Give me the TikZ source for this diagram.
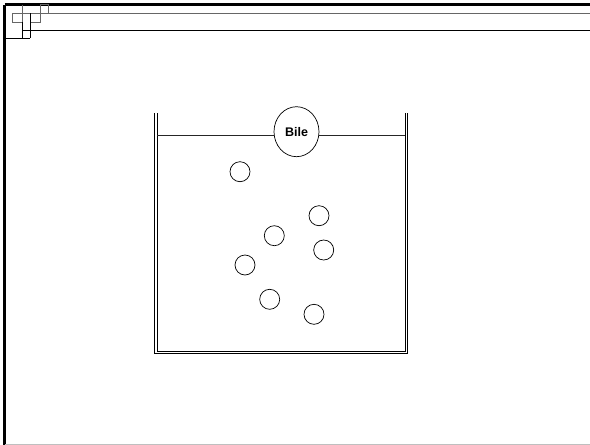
\documentclass[tikz,border=0pt]{standalone}
\usepackage{fontspec}
\setsansfont{Liberation Sans}
\usetikzlibrary{shapes.geometric}
\tikzset{
  frameline/.style={line width=2.2pt, black},
  trimgray/.style={line width=1pt, black!60},
  trimdark/.style={line width=1pt, black},
  wall/.style={line width=1pt, black},
  liquid/.style={line width=0.7pt, black!85},
  droplet/.style={
    draw,
    circle,
    minimum size=20pt,
    inner sep=0pt,
    line width=0.7pt,
  },
  bilenode/.style={
    draw,
    ellipse,
    minimum width=45pt,
    minimum height=50pt,
    inner sep=0pt,
    line width=0.7pt,
    fill=white,
    font=\sffamily\bfseries\fontsize{12.5}{12.5}\selectfont,
  },
}

\begin{document}
\begin{tikzpicture}[x=1pt, y=-1pt]
  \useasboundingbox (0,0) rectangle (590,445);
  % slide frame
  \draw[frameline] (4.5,4.5) -- (590,4.5);
  \draw[frameline] (4.5,4.5) -- (4.5,445);
  \draw[line width=1pt, black!25] (5,444) -- (590,444);
  % corner trim
  \draw[trimgray] (12,13) -- (590,13);
  \draw[trimgray] (12,13) rectangle (22,22);
  \draw[trimgray] (22,4.5) -- (22,22);
  \draw[trimgray] (30,13) rectangle (40,22);
  \draw[trimgray] (40,4.5) rectangle (48,13);
  \draw[trimdark] (4.5,38) -- (30,38);
  \draw[trimdark] (30,13) -- (30,38);
  \draw[trimdark] (22,22) -- (22,38);
  \draw[trimdark] (22,30.5) -- (590,30.5);
  % beaker
  \draw[wall] (154.5,113) -- (154.5,353.5) -- (407.5,353.5) -- (407.5,113);
  \draw[wall] (157,113) -- (157,351) -- (405,351) -- (405,113);
  \coordinate (lqL) at (157,135.7);
  \coordinate (lqR) at (405,135.7);
  \draw[liquid] (lqL) -- (lqR);
  \node[bilenode] (bile) at (296.5,131.7) {Bile};
  % fat droplets
  \foreach \x/\y [count=\k] in {240/171.7, 319/215.7, 274.3/235.7, 323.7/250,
                                245/265, 269.7/299.3, 314/314.3} {
    \node[droplet] (p\k) at (\x,\y) {};
  }
\end{tikzpicture}
\end{document}
